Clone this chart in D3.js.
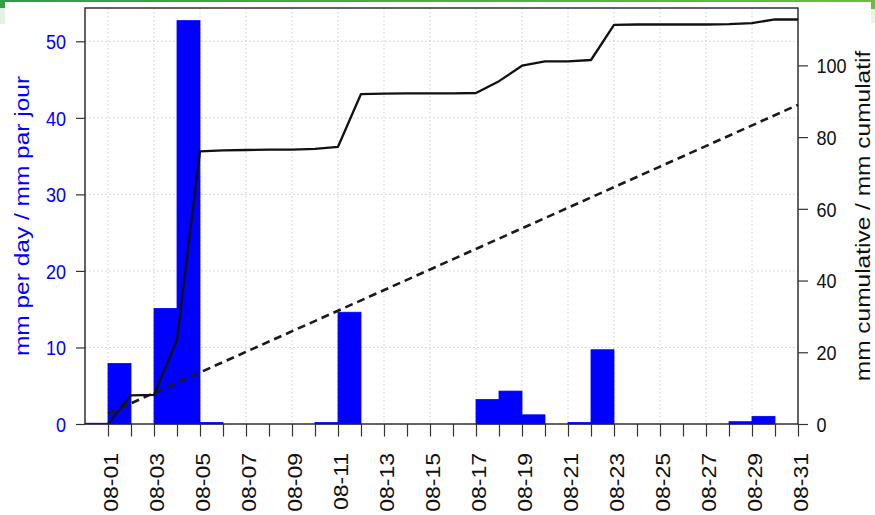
<!DOCTYPE html>
<html>
<head>
<meta charset="utf-8">
<script src="https://cdn.jsdelivr.net/npm/d3@7/dist/d3.min.js"></script>
<style>
  html, body { margin: 0; padding: 0; background: #ffffff; }
  svg { display: block; }
</style>
</head>
<body>
<svg id="chart" width="875" height="515"></svg>
<script>
// ---------------- data ----------------
// daily rainfall bars: each bar covers [day, day+1)
const rainDays = ["07-31","08-01","08-02","08-03","08-04","08-05","08-06","08-07","08-08","08-09",
  "08-10","08-11","08-12","08-13","08-14","08-15","08-16","08-17","08-18","08-19",
  "08-20","08-21","08-22","08-23","08-24","08-25","08-26","08-27","08-28","08-29","08-30"];
const rainMm = [0.1, 7.9, 0, 15.1, 52.7, 0.2, 0, 0, 0, 0,
  0.2, 14.6, 0, 0, 0, 0, 0, 3.2, 4.3, 1.2,
  0, 0.2, 9.7, 0, 0, 0, 0, 0, 0.3, 1.0, 0];

// cumulative observed rainfall (right axis)
const cumDays = ["08-01","08-02","08-03","08-04","08-05","08-06","08-07","08-08","08-09","08-10",
  "08-11","08-12","08-13","08-14","08-15","08-16","08-17","08-18","08-19","08-20",
  "08-21","08-22","08-23","08-24","08-25","08-26","08-27","08-28","08-29","08-30","08-31"];
const cumMm = [0, 8.0, 8.1, 23.4, 76.0, 76.3, 76.4, 76.5, 76.5, 76.7,
  77.3, 92.0, 92.1, 92.2, 92.2, 92.2, 92.3, 95.6, 99.9, 101.1,
  101.1, 101.5, 111.3, 111.4, 111.4, 111.4, 111.4, 111.5, 111.8, 112.8, 112.8];

// normal cumulative (dashed)
const normalDays = ["08-01","08-31"];
const normalMm = [2.9, 89.0];

const xTickLabels = ["08-01","08-03","08-05","08-07","08-09","08-11","08-13","08-15",
  "08-17","08-19","08-21","08-23","08-25","08-27","08-29","08-31"];
const leftTicks = [0, 10, 20, 30, 40, 50];
const rightTicks = [0, 20, 40, 60, 80, 100];
const leftTitle = "mm per day / mm par jour";
const rightTitle = "mm cumulative / mm cumulatif";

// ---------------- layout ----------------
const L = 85, R = 798, T = 8, B = 424;
const S = 0.86;               // horizontal squash of text
const FONT = "'Liberation Sans', Arial, Helvetica, sans-serif";
const BLUE = "#0000ff";

const parse = s => new Date(Date.UTC(2023, +s.slice(0,2) - 1, +s.slice(3,5)));
const nextDay = d => new Date(d.getTime() + 86400000);

const x = d3.scaleUtc().domain([parse("07-31"), parse("08-31")]).range([L, R]);
const yL = d3.scaleLinear().domain([0, 54.35]).range([B, T]);
const yR = d3.scaleLinear().domain([0, 116.0]).range([B, T]);

const svg = d3.select("#chart");

// green frame remnant at top
const defs = svg.append("defs");
const grad = defs.append("linearGradient").attr("id", "gtop").attr("x1", "0").attr("x2", "1");
grad.append("stop").attr("offset", "0").attr("stop-color", "#2e9e45");
grad.append("stop").attr("offset", "1").attr("stop-color", "#6dbd3e");
svg.append("rect").attr("x", 0).attr("y", 0).attr("width", 873).attr("height", 2).attr("fill", "url(#gtop)");
svg.append("rect").attr("x", 0).attr("y", 0).attr("width", 5).attr("height", 8).attr("fill", "#34a04a");
svg.append("rect").attr("x", 0).attr("y", 8).attr("width", 5).attr("height", 16).attr("fill", "#e3f2e3");
svg.append("rect").attr("x", 871).attr("y", 0).attr("width", 4).attr("height", 9).attr("fill", "#6dbd3e");
svg.append("rect").attr("x", 871).attr("y", 9).attr("width", 4).attr("height", 14).attr("fill", "#eaf5e2");

// grid
const grid = svg.append("g").attr("stroke", "#cfcfcf").attr("stroke-width", 1).attr("stroke-dasharray", "1.5,2.5");
grid.selectAll("line.v").data(xTickLabels.filter(d => d !== "08-31")).join("line")
  .attr("x1", d => x(parse(d))).attr("x2", d => x(parse(d)))
  .attr("y1", T).attr("y2", B);
grid.selectAll("line.h").data(leftTicks.filter(d => d > 0)).join("line")
  .attr("x1", L).attr("x2", R)
  .attr("y1", d => yL(d)).attr("y2", d => yL(d));

// bars
const bars = rainDays.map((d, i) => ({ start: parse(d), v: rainMm[i] })).filter(d => d.v > 0);
svg.append("g").selectAll("rect").data(bars).join("rect")
  .attr("x", d => x(d.start))
  .attr("width", d => x(nextDay(d.start)) - x(d.start))
  .attr("y", d => yL(d.v))
  .attr("height", d => yL(0) - yL(d.v))
  .attr("fill", BLUE).attr("stroke", BLUE).attr("stroke-width", 0.8);

// normal cumulative (dashed)
const line = d3.line().x(d => x(d[0])).y(d => yR(d[1]));
svg.append("path")
  .datum(normalDays.map((d, i) => [parse(d), normalMm[i]]))
  .attr("d", line).attr("fill", "none")
  .attr("stroke", "#1a1a1a").attr("stroke-width", 2.6).attr("stroke-dasharray", "8,5");

// observed cumulative
svg.append("path")
  .datum(cumDays.map((d, i) => [parse(d), cumMm[i]]))
  .attr("d", line).attr("fill", "none")
  .attr("stroke", "#111").attr("stroke-width", 2.3).attr("stroke-linejoin", "round");

// frame
svg.append("rect").attr("x", L).attr("y", T).attr("width", R - L).attr("height", B - T)
  .attr("fill", "none").attr("stroke", "#222").attr("stroke-width", 1.4);

// bottom axis
const allDays = cumDays.map(parse);
const labelSet = new Set(xTickLabels);
const fmt = d3.utcFormat("%m-%d");
const xAxis = svg.append("g").attr("transform", `translate(0,${B})`)
  .call(d3.axisBottom(x).tickValues(allDays).tickSize(12.5)
    .tickFormat(d => labelSet.has(fmt(d)) ? fmt(d) : ""));
xAxis.select(".domain").remove();
xAxis.selectAll(".tick line").attr("stroke", "#333").attr("stroke-width", 1.2);
xAxis.selectAll(".tick text")
  .attr("y", null).attr("dy", null)
  .attr("transform", `translate(9.5,29) scale(${S},1) rotate(-90)`)
  .attr("text-anchor", "end")
  .attr("font-family", FONT).attr("font-size", 23).attr("fill", "#111");

// left axis
const yAxisL = svg.append("g").attr("transform", `translate(${L},0)`)
  .call(d3.axisLeft(yL).tickValues(leftTicks).tickSize(9));
yAxisL.select(".domain").remove();
yAxisL.selectAll(".tick line").attr("stroke", "#333").attr("stroke-width", 1.2);
yAxisL.selectAll(".tick text")
  .attr("x", null).attr("dy", null)
  .attr("transform", `translate(-19,7.3) scale(${S},1)`)
  .attr("text-anchor", "end")
  .attr("font-family", FONT).attr("font-size", 21).attr("fill", BLUE);

// right axis
const yAxisR = svg.append("g").attr("transform", `translate(${R},0)`)
  .call(d3.axisRight(yR).tickValues(rightTicks).tickSize(10));
yAxisR.select(".domain").remove();
yAxisR.selectAll(".tick line").attr("stroke", "#333").attr("stroke-width", 1.2);
yAxisR.selectAll(".tick text")
  .attr("x", null).attr("dy", null)
  .attr("transform", `translate(18.5,7.3) scale(${S},1)`)
  .attr("text-anchor", "start")
  .attr("font-family", FONT).attr("font-size", 21).attr("fill", "#111");

// axis titles
svg.append("text")
  .attr("transform", `translate(28.5,${(T + B) / 2}) scale(${S},1) rotate(-90)`)
  .attr("text-anchor", "middle")
  .attr("font-family", FONT).attr("font-size", 24.5).attr("fill", BLUE)
  .text(leftTitle);
svg.append("text")
  .attr("transform", `translate(869.5,${(T + B) / 2}) scale(${S},1) rotate(-90)`)
  .attr("text-anchor", "middle")
  .attr("font-family", FONT).attr("font-size", 24.5).attr("fill", "#111")
  .text(rightTitle);
</script>
</body>
</html>
